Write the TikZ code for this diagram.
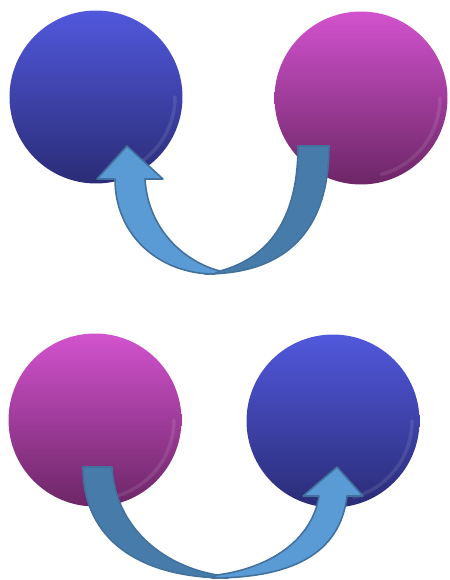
\documentclass[tikz,border=0pt]{standalone}
\usepackage{tikz}

% colores de las esferas y de las flechas
\definecolor{azulclaro}{HTML}{5158DC}
\definecolor{azulmedio}{HTML}{3E45B8}
\definecolor{azuloscuro}{HTML}{2A2C76}
\definecolor{rosaclaro}{HTML}{D252CE}
\definecolor{rosamedio}{HTML}{AD40A6}
\definecolor{rosaoscuro}{HTML}{6C2666}
\definecolor{flechaclara}{HTML}{5B9BD5}
\definecolor{flechaoscura}{HTML}{477CAA}
\definecolor{bordeflecha}{HTML}{41719C}

\tikzset{
  esfera/.style={circle, minimum size=3.46cm, inner sep=0pt},
  esfera azul/.style={esfera, top color=azulclaro, middle color=azulmedio, bottom color=azuloscuro},
  esfera rosa/.style={esfera, top color=rosaclaro, middle color=rosamedio, bottom color=rosaoscuro},
  brillo/.style={white, opacity=0.1, line width=2pt, line cap=round},
  banda clara/.style={fill=flechaclara, draw=bordeflecha, line width=0.9pt, line join=round},
  banda oscura/.style={fill=flechaoscura, draw=bordeflecha, line width=0.9pt, line join=round}
}

\begin{document}
\begin{tikzpicture}[x=0.02cm, y=-0.02cm]

 % --- MARCO ---
 \useasboundingbox (0,0) rectangle (449,580);

 % --- FILA DE ARRIBA ---
 % esfera azul a la izquierda, rosa a la derecha
 \node[esfera azul] (azulA) at (96,97) {};
 \node[esfera rosa] (rosaA) at (361,98) {};
 \draw[brillo] (azulA.center) ++(-75:1.58cm) arc[start angle=-75, end angle=0, radius=1.58cm];
 \draw[brillo] (rosaA.center) ++(-75:1.58cm) arc[start angle=-75, end angle=0, radius=1.58cm];

 % flecha curva: sale de la rosa y vuelve a la azul
 \draw[banda oscura] (298,146) -- (329,146)
   .. controls (329,232) and (285,274) .. (205,274) -- (220,271)
   .. controls (268,258) and (298,220) .. (298,146) -- cycle;
 \draw[banda clara] (115,179) .. controls (115,236) and (160,274) .. (214,274)
   -- (220,271) .. controls (185,262) and (148,230) .. (145,179)
   -- (163,179) -- (127,146) -- (97,179) -- cycle;

 % --- FILA DE ABAJO ---
 % ahora la rosa a la izquierda y la azul a la derecha
 \node[esfera rosa] (rosaB) at (95,420) {};
 \node[esfera azul] (azulB) at (333,421) {};
 \draw[brillo] (rosaB.center) ++(-75:1.58cm) arc[start angle=-75, end angle=0, radius=1.58cm];
 \draw[brillo] (azulB.center) ++(-75:1.58cm) arc[start angle=-75, end angle=0, radius=1.58cm];

 % flecha curva: sale de la rosa y llega a la azul
 \draw[banda oscura] (83,467) -- (112,467)
   .. controls (115,525) and (160,565) .. (217,575) -- (228,578)
   .. controls (140,578) and (83,540) .. (83,467) -- cycle;
 \draw[banda clara] (347,496) .. controls (340,555) and (290,578) .. (212,578)
   -- (217,575) .. controls (270,568) and (312,540) .. (319,496)
   -- (303,496) -- (337,467) -- (363,496) -- cycle;

\end{tikzpicture}
\end{document}
